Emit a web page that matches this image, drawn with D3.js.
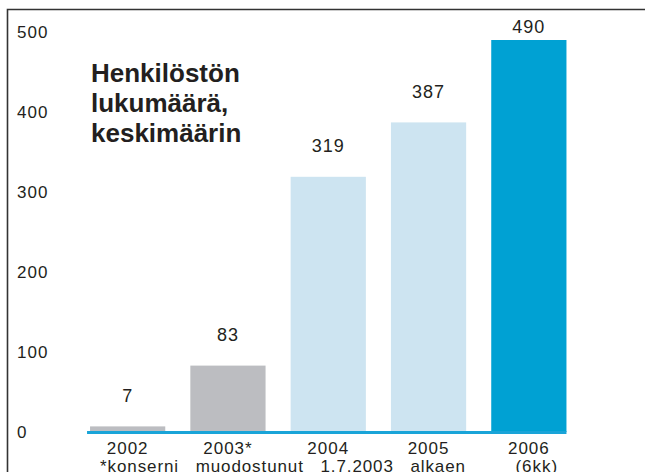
<!DOCTYPE html>
<html>
<head>
<meta charset="utf-8">
<script src="https://cdn.jsdelivr.net/npm/d3@7"></script>
<style>
  body { margin: 0; background: #fff; }
  text { font-family: "Liberation Sans", Arial, sans-serif; fill: #231f20; }
</style>
</head>
<body>
<div id="chart"></div>
<script>
// data
var years = ["2002", "2003*", "2004", "2005", "2006"];
var staff = [7, 83, 319, 387, 490];
var subLabels = ["*konserni", "muodostunut", "1.7.2003", "alkaen", "(6kk)"];
var yTicks = [0, 100, 200, 300, 400, 500];
var titleLines = ["Henkilöstön", "lukumäärä,", "keskimäärin"];
var barColors = ["#bcbdc1", "#bcbdc1", "#cde4f1", "#cde4f1", "#00a1d3"];

var width = 645, height = 472;

var svg = d3.select("#chart").append("svg")
  .attr("width", width)
  .attr("height", height);

var x = d3.scaleBand()
  .domain(years)
  .range([77.5, 579])
  .paddingInner(0.25)
  .paddingOuter(0.125);

var y = d3.scaleLinear()
  .domain([0, 500])
  .range([432, 32]);

// frame (top + left only, rest is cropped)
svg.append("path")
  .attr("d", "M7.5," + height + "V9.5H" + width)
  .attr("fill", "none")
  .attr("stroke", "#333")
  .attr("stroke-width", 1.6);

// y tick labels
svg.append("g").selectAll("text")
  .data(yTicks)
  .enter().append("text")
  .attr("x", 17)
  .attr("y", function (d) { return y(d); })
  .attr("dy", "0.36em")
  .style("font-size", "17px")
  .style("letter-spacing", "1px")
  .text(function (d) { return d; });

// bars
svg.append("g").selectAll("rect")
  .data(staff)
  .enter().append("rect")
  .attr("x", function (d, i) { return x(years[i]); })
  .attr("y", function (d) { return y(d); })
  .attr("width", x.bandwidth())
  .attr("height", function (d) { return y(0) - y(d); })
  .attr("fill", function (d, i) { return barColors[i]; });

// baseline
svg.append("rect")
  .attr("x", x(years[0]) - 3)
  .attr("y", y(0) - 1)
  .attr("width", x(years[years.length - 1]) + x.bandwidth() - x(years[0]) + 3)
  .attr("height", 3)
  .attr("fill", "#19a4d8");

// value labels
svg.append("g").selectAll("text")
  .data(staff)
  .enter().append("text")
  .attr("x", function (d, i) { return x(years[i]) + x.bandwidth() / 2; })
  .attr("y", function (d) { return Math.max(27, y(d) - 31); })
  .attr("dy", "0.36em")
  .attr("text-anchor", "middle")
  .style("font-size", "18px")
  .style("letter-spacing", "1px")
  .text(function (d) { return d; });

// year labels
svg.append("g").selectAll("text")
  .data(years)
  .enter().append("text")
  .attr("x", function (d) { return x(d) + x.bandwidth() / 2; })
  .attr("y", 454)
  .attr("text-anchor", "middle")
  .style("font-size", "17px")
  .style("letter-spacing", "1px")
  .text(function (d) { return d; });

// footnote row: first four words run as one sentence, last one sits under 2006
svg.append("text")
  .attr("x", x(years[0]) + 10)
  .attr("y", 472)
  .style("font-size", "17px")
  .style("letter-spacing", "0.9px")
  .style("word-spacing", "11px")
  .text(subLabels.slice(0, 4).join(" "));

svg.append("text")
  .attr("x", x(years[4]) + x.bandwidth() / 2 + 8)
  .attr("y", 472)
  .attr("text-anchor", "middle")
  .style("font-size", "17px")
  .style("letter-spacing", "1px")
  .text(subLabels[4]);

// title
svg.append("g").selectAll("text")
  .data(titleLines)
  .enter().append("text")
  .attr("x", 91)
  .attr("y", function (d, i) { return 82 + i * 30; })
  .style("font-size", "26px")
  .style("font-weight", "bold")
  .text(function (d) { return d; });
</script>
</body>
</html>
